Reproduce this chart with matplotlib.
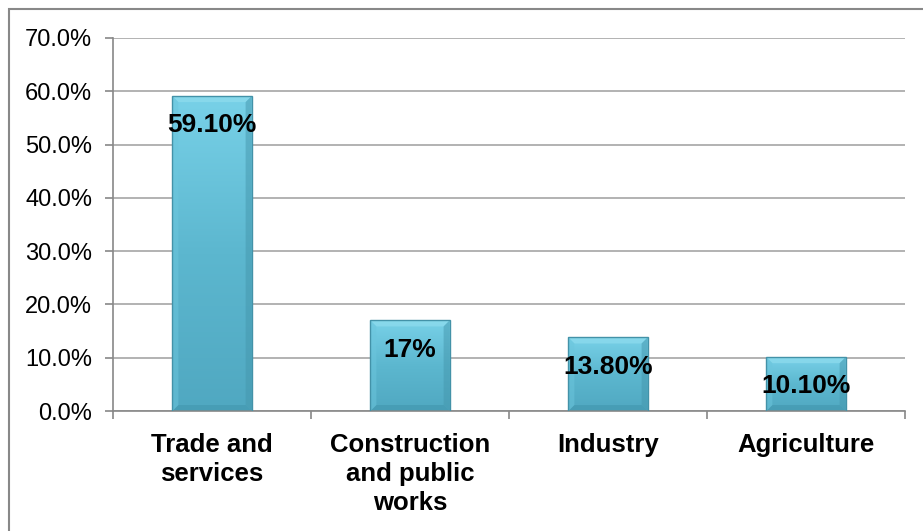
import numpy as np
import matplotlib.pyplot as plt
from matplotlib.patches import Rectangle, Polygon
from matplotlib.colors import LinearSegmentedColormap

categories = ["Trade and\nservices", "Construction\nand public\nworks", "Industry", "Agriculture"]
values = [59.1, 17.0, 13.8, 10.1]
value_labels = ["59.10%", "17%", "13.80%", "10.10%"]
yticks = [0, 10, 20, 30, 40, 50, 60, 70]

plt.rcParams['font.family'] = ['Liberation Sans', 'DejaVu Sans']

W, H = 923, 531
fig = plt.figure(figsize=(W / 100, H / 100), dpi=100)
ax = fig.add_axes([113 / W, 1 - 411 / H, (905 - 113) / W, (411 - 38) / H])

# outer frame of the chart area
fig.patches.append(Rectangle((9 / W, -0.01), 1.0, 1 - 9 / H + 0.01, transform=fig.transFigure,
                             fill=False, edgecolor='#888888', lw=1.5))

x = np.arange(len(categories))
bw = 0.4
cmap = LinearSegmentedColormap.from_list('bar', ['#78d1e8', '#5cb7cf', '#50a8c1'])
grad = np.linspace(0, 1, 256).reshape(-1, 1)

# pixel size in data units
px = 4.0 / (905 - 113)
py = 70.0 / (411 - 38)
bev_x = 6 * px
bev_y = 6 * py

for xi, v in zip(x, values):
    x0, x1 = xi - bw / 2, xi + bw / 2
    rect = Rectangle((x0, 0), bw, v, facecolor='none', edgecolor='#4392a8', lw=1.0, zorder=3)
    ax.add_patch(rect)
    im = ax.imshow(grad, cmap=cmap, aspect='auto', extent=[x0, x1, 0, v], zorder=2)
    im.set_clip_path(rect)
    # bevel edges
    ax.add_patch(Polygon([[x0, v], [x1, v], [x1 - bev_x, v - bev_y], [x0 + bev_x, v - bev_y]],
                         closed=True, facecolor='#8fdcee', edgecolor='none', alpha=0.7, zorder=2.5))
    ax.add_patch(Polygon([[x0, 0], [x1, 0], [x1 - bev_x, bev_y], [x0 + bev_x, bev_y]],
                         closed=True, facecolor='#3f93aa', edgecolor='none', alpha=0.5, zorder=2.5))
    ax.add_patch(Polygon([[x0, 0], [x0, v], [x0 + bev_x, v - bev_y], [x0 + bev_x, bev_y]],
                         closed=True, facecolor='#6cc6dd', edgecolor='none', alpha=0.5, zorder=2.5))
    ax.add_patch(Polygon([[x1, 0], [x1, v], [x1 - bev_x, v - bev_y], [x1 - bev_x, bev_y]],
                         closed=True, facecolor='#4597ad', edgecolor='none', alpha=0.5, zorder=2.5))

for xi, v, lab in zip(x, values, value_labels):
    ax.annotate(lab, (xi, v), xytext=(0, -21), textcoords='offset points',
                ha='center', va='center', fontsize=19, fontweight='bold', color='black', zorder=5)

ax.set_xlim(-0.5, len(categories) - 0.5)
ax.set_ylim(0, 70)
ax.set_yticks(yticks)
ax.set_yticklabels([f"{t:.1f}%" for t in yticks], fontsize=17)
ax.yaxis.grid(True, color='#a6a6a6', lw=1.2)
ax.set_axisbelow(True)

ax.set_xticks(x)
ax.set_xticklabels(categories, fontsize=18.5, fontweight='bold', linespacing=1.25)
ax.set_xticks(np.arange(len(categories) + 1) - 0.5, minor=True)
ax.tick_params(axis='x', which='major', length=0, pad=16)
ax.tick_params(axis='x', which='minor', length=6, width=1.2, color='#888888', direction='out')
ax.tick_params(axis='y', length=6, width=1.2, color='#888888', pad=9)

for s in ['top', 'right']:
    ax.spines[s].set_visible(False)
for s in ['left', 'bottom']:
    ax.spines[s].set_color('#888888')
    ax.spines[s].set_linewidth(1.2)

fig.savefig("out.png", dpi=100)
